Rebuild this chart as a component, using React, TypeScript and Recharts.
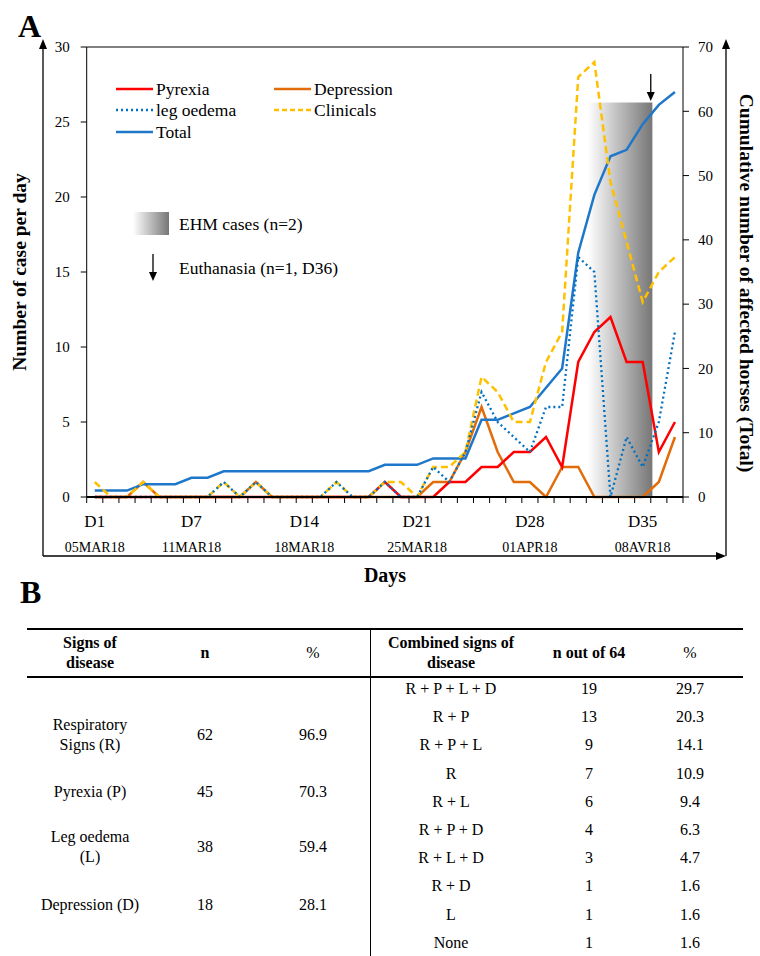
import React from "react"
import {
  LineChart, Line, XAxis, YAxis, Legend,
  ReferenceArea, ReferenceLine, ReferenceDot
} from "recharts"

// daily counts (D1 = 05MAR18)
const days = [1, 2, 3, 4, 5, 6, 7, 8, 9, 10, 11, 12, 13, 14, 15, 16, 17, 18, 19, 20, 21, 22, 23, 24, 25, 26, 27, 28, 29, 30, 31, 32, 33, 34, 35, 36, 37]
const pyrexia = [0, 0, 0, 0, 0, 0, 0, 0, 0, 0, 0, 0, 0, 0, 0, 0, 0, 0, 1, 0, 0, 0, 1, 1, 2, 2, 3, 3, 4, 2, 9, 11, 12, 9, 9, 3, 5]
const depression = [0, 0, 0, 1, 0, 0, 0, 0, 0, 0, 1, 0, 0, 0, 0, 0, 0, 0, 0, 0, 0, 1, 1, 3, 6, 3, 1, 1, 0, 2, 2, 0, 0, 0, 0, 1, 4]
const legOedema = [0, 0, 0, 0, 0, 0, 0, 0, 1, 0, 1, 0, 0, 0, 0, 1, 0, 0, 1, 0, 0, 2, 1, 3, 7, 5, 4, 3, 6, 6, 16, 15, 0, 4, 2, 5, 11]
const clinicals = [1, 0, 0, 1, 0, 0, 0, 0, 1, 0, 1, 0, 0, 0, 0, 1, 0, 0, 1, 1, 0, 2, 2, 3, 8, 7, 5, 5, 9, 11, 28, 29, 21, 17, 13, 15, 16]
const total = [1, 1, 1, 2, 2, 2, 3, 3, 4, 4, 4, 4, 4, 4, 4, 4, 4, 4, 5, 5, 5, 6, 6, 6, 12, 12, 13, 14, 17, 20, 38, 47, 53, 54, 58, 61, 63]

const labelDays = [1, 7, 14, 21, 28, 35]
const dayLabels = ["D1", "D7", "D14", "D21", "D28", "D35"]
const dateLabels = ["05MAR18", "11MAR18", "18MAR18", "25MAR18", "01APR18", "08AVR18"]
const leftTicks = [0, 5, 10, 15, 20, 25, 30]
const rightTicks = [0, 10, 20, 30, 40, 50, 60, 70]

// EHM window and euthanasia marker (day scale)
const ehmFrom = 31.6
const ehmTo = 35.6
const ehmTop = 26.3
const euthanasiaDay = 35.5

// table B
const signs = [["Respiratory", "Signs (R)"], ["Pyrexia (P)"], ["Leg oedema", "(L)"], ["Depression (D)"]]
const signN = ["62", "45", "38", "18"]
const signPct = ["96.9", "70.3", "59.4", "28.1"]
const combos = ["R + P + L + D", "R + P", "R + P + L", "R", "R + L", "R + P + D", "R + L + D", "R + D", "L", "None"]
const comboN = ["19", "13", "9", "7", "6", "4", "3", "1", "1", "1"]
const comboPct = ["29.7", "20.3", "14.1", "10.9", "9.4", "6.3", "4.7", "1.6", "1.6", "1.6"]

const serif = "'Liberation Serif', 'Times New Roman', serif"

const series = [
  { key: "pyrexia", name: "Pyrexia", color: "#ff0000", dash: undefined as string | undefined, width: 2.5, axis: "left" },
  { key: "depression", name: "Depression", color: "#e36c0a", dash: undefined, width: 2.5, axis: "left" },
  { key: "legOedema", name: "leg oedema", color: "#0070c0", dash: "2 3", width: 2.3, axis: "left" },
  { key: "clinicals", name: "Clinicals", color: "#ffc000", dash: "7 4", width: 2.5, axis: "left" },
  { key: "total", name: "Total", color: "#1f77c9", dash: undefined, width: 2.5, axis: "right" },
]

const data = days.map((d, i) => ({
  day: d,
  pyrexia: pyrexia[i],
  depression: depression[i],
  legOedema: legOedema[i],
  clinicals: clinicals[i],
  total: total[i],
}))

const boundaryTicks = [...days.map((d) => d - 0.5), days[days.length - 1] + 0.5]

function DayTick(props: any) {
  const { x, y, payload } = props
  const i = labelDays.indexOf(payload.value)
  if (i < 0) {
    return <line x1={x} y1={y} x2={x} y2={y + 6} stroke="#000" strokeWidth={1} />
  }
  return (
    <g>
      <text x={x} y={y + 30} textAnchor="middle" fontSize={17} fill="#000">{dayLabels[i]}</text>
      <text x={x} y={y + 55} textAnchor="middle" fontSize={14} fill="#000">{dateLabels[i]}</text>
    </g>
  )
}

function LegendBox() {
  return (
    <div style={{ position: "relative", width: 330, height: 70, fontFamily: serif, fontSize: 17.5, color: "#000" }}>
      {series.map((s, i) => {
        const col = i % 2
        const row = Math.floor(i / 2)
        return (
          <div key={s.key} style={{
            position: "absolute", left: col * 158, top: [11, 32, 54][row] - 10,
            height: 20, display: "flex", alignItems: "center", whiteSpace: "nowrap"
          }}>
            <svg width={39} height={6} style={{ display: "block" }}>
              <line x1={0} y1={3} x2={37} y2={3} stroke={s.color} strokeWidth={2.5}
                strokeDasharray={s.dash === "7 4" ? "5 3" : s.dash} />
            </svg>
            <span style={{ marginLeft: 1 }}>{s.name}</span>
          </div>
        )
      })}
    </div>
  )
}

function Cell({ cx, cy, lines, bold }: { cx: number, cy: number, lines: string[], bold?: boolean }) {
  return (
    <div style={{
      position: "absolute", left: cx - 110, width: 220, top: cy - lines.length * 10,
      textAlign: "center", lineHeight: "20px", fontSize: 16, fontWeight: bold ? 700 : 400
    }}>
      {lines.map((l, i) => <div key={i}>{l}</div>)}
    </div>
  )
}

export default function App() {
  const signRowsY = [735, 791.5, 846.7, 905]
  return (
    <div style={{ position: "absolute", left: 0, top: 0, width: 760, height: 956, background: "#fff", fontFamily: serif, color: "#000", overflow: "hidden" }}>
      <LineChart width={760} height={600} data={data}
        margin={{ top: 47, right: 37, left: 46.7, bottom: 43 }}>
        <defs>
          <linearGradient id="ehmFill" x1="0" y1="0" x2="1" y2="0">
            <stop offset="0" stopColor="#ffffff" />
            <stop offset="1" stopColor="#767676" />
          </linearGradient>
        </defs>
        <XAxis dataKey="day" type="number" domain={[0.5, 37.5]}
          ticks={[...boundaryTicks, ...labelDays]} interval={0}
          tick={<DayTick />} tickLine={false} tickSize={0} tickMargin={0} height={60}
          axisLine={{ stroke: "#000", strokeWidth: 2 }} />
        <YAxis yAxisId="left" domain={[0, 30]} ticks={leftTicks} width={40}
          tick={{ fill: "#000", fontSize: 15 }} tickSize={6} tickMargin={11}
          tickLine={{ stroke: "#000" }} axisLine={{ stroke: "#000" }} />
        <YAxis yAxisId="right" orientation="right" domain={[0, 70]} ticks={rightTicks} width={40}
          tick={{ fill: "#000", fontSize: 15 }} tickSize={6} tickMargin={9}
          tickLine={{ stroke: "#000" }} axisLine={{ stroke: "#000" }} />
        <ReferenceLine yAxisId="left" y={30} stroke="#000" strokeWidth={1} />
        <ReferenceArea yAxisId="left" x1={ehmFrom} x2={ehmTo} y1={0} y2={ehmTop}
          fill="url(#ehmFill)" fillOpacity={1} stroke="none" />
        <ReferenceDot yAxisId="left" x={euthanasiaDay} y={ehmTop + 0.1} r={0}
          shape={(p: any) => (
            <g>
              <line x1={p.cx} y1={p.cy - 27} x2={p.cx} y2={p.cy - 8} stroke="#000" strokeWidth={1.3} />
              <polygon points={`${p.cx - 4},${p.cy - 9} ${p.cx + 4},${p.cy - 9} ${p.cx},${p.cy}`} fill="#000" />
            </g>
          )} />
        {["depression", "pyrexia", "total", "clinicals", "legOedema"].map((k) => {
          const s = series.find((x) => x.key === k)!
          return (
            <Line key={k} yAxisId={s.axis} dataKey={s.key} name={s.name} type="linear"
              stroke={s.color} strokeWidth={s.width} strokeDasharray={s.dash}
              dot={false} activeDot={false} isAnimationActive={false} />
          )
        })}
        <Legend layout="vertical" align="center" verticalAlign="middle"
          content={() => <LegendBox />}
          wrapperStyle={{ left: 116, top: 78, width: 330, height: 70 }} />
      </LineChart>

      {/* frame, titles and the extra key entries */}
      <svg width={760} height={600} style={{ position: "absolute", left: 0, top: 0, pointerEvents: "none" }}>
        <defs>
          <linearGradient id="ehmKey" x1="0" y1="0" x2="1" y2="0">
            <stop offset="0" stopColor="#ffffff" />
            <stop offset="1" stopColor="#767676" />
          </linearGradient>
        </defs>
        <text x={18} y={37} fontSize={32} fontWeight={700}>A</text>
        <line x1={43} y1={556} x2={43} y2={46} stroke="#000" strokeWidth={1.3} />
        <polygon points="39,49 47,49 43,39" fill="#000" />
        <line x1={43} y1={556} x2={718} y2={556} stroke="#000" strokeWidth={1.3} />
        <polygon points="716,552 716,560 726,556" fill="#000" />
        <line x1={726} y1={556} x2={726} y2={46} stroke="#000" strokeWidth={1.3} />
        <polygon points="722,49 730,49 726,39" fill="#000" />
        <text transform="translate(26,272) rotate(-90)" textAnchor="middle" fontSize={19.5} fontWeight={700}>Number of case per day</text>
        <text transform="translate(740,283) rotate(90)" textAnchor="middle" fontSize={19.5} fontWeight={700}>Cumulative number of affected horses (Total)</text>
        <text x={385} y={582} textAnchor="middle" fontSize={20} fontWeight={700}>Days</text>
        <rect x={133} y={212} width={36} height={23} fill="url(#ehmKey)" />
        <text x={179} y={230} fontSize={17.5}>EHM cases (n=2)</text>
        <line x1={153} y1={254} x2={153} y2={274} stroke="#000" strokeWidth={1.3} />
        <polygon points="149,272 157,272 153,281" fill="#000" />
        <text x={179} y={274} fontSize={17.5}>Euthanasia (n=1, D36)</text>
      </svg>

      {/* panel B */}
      <div style={{ position: "absolute", left: 20, top: 574, fontSize: 32, fontWeight: 700, lineHeight: "36px" }}>B</div>
      <div style={{ position: "absolute", left: 27, top: 628, width: 716, height: 1.5, background: "#000" }} />
      <div style={{ position: "absolute", left: 27, top: 676, width: 716, height: 1.5, background: "#000" }} />
      <div style={{ position: "absolute", left: 369.5, top: 628, width: 1.5, height: 330, background: "#000" }} />

      <Cell cx={90} cy={653} lines={["Signs of", "disease"]} bold />
      <Cell cx={205} cy={653} lines={["n"]} bold />
      <Cell cx={313} cy={653} lines={["%"]} />
      <Cell cx={451} cy={653} lines={["Combined signs of", "disease"]} bold />
      <Cell cx={589} cy={653} lines={["n out of 64"]} bold />
      <Cell cx={690} cy={653} lines={["%"]} />

      {signs.map((s, i) => (
        <React.Fragment key={i}>
          <Cell cx={90} cy={signRowsY[i]} lines={s} />
          <Cell cx={205} cy={signRowsY[i]} lines={[signN[i]]} />
          <Cell cx={313} cy={signRowsY[i]} lines={[signPct[i]]} />
        </React.Fragment>
      ))}
      {combos.map((c, i) => (
        <React.Fragment key={c}>
          <Cell cx={451} cy={689 + i * 28.2} lines={[c]} />
          <Cell cx={589} cy={689 + i * 28.2} lines={[comboN[i]]} />
          <Cell cx={690} cy={689 + i * 28.2} lines={[comboPct[i]]} />
        </React.Fragment>
      ))}
    </div>
  )
}
